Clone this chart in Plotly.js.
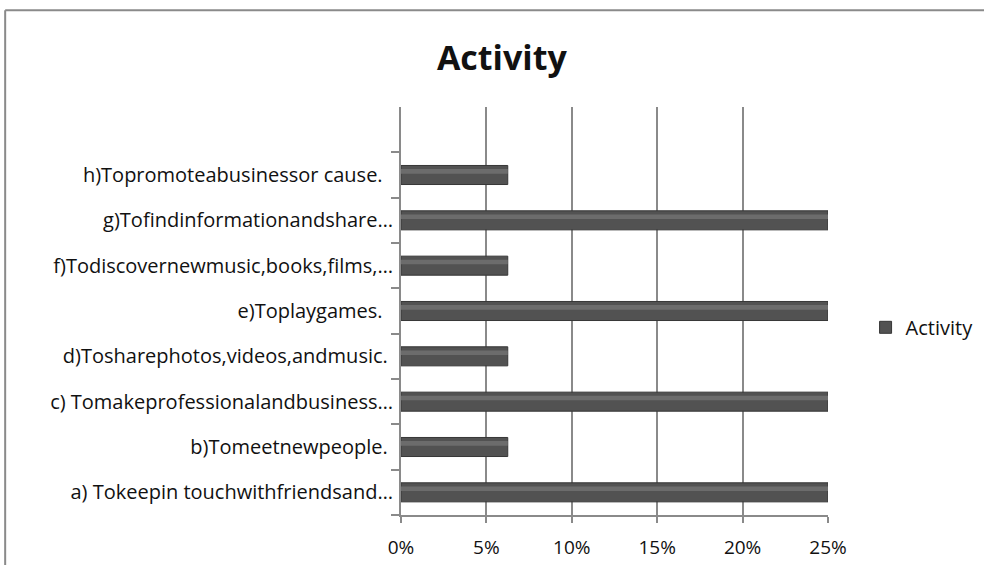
<!DOCTYPE html>
<html>
<head>
<meta charset="utf-8">
<script src="https://cdn.plot.ly/plotly-3.0.1.min.js"></script>
<style>
html,body{margin:0;padding:0;background:#fff;}
#chart{width:984px;height:565px;}
</style>
</head>
<body>
<div id="chart"></div>
<script>
const categories = [
  "a) Tokeepin touchwithfriendsand…",
  "b)Tomeetnewpeople.\u00a0",
  "c) Tomakeprofessionalandbusiness…",
  "d)Tosharephotos,videos,andmusic.\u00a0",
  "e)Toplaygames.\u00a0\u00a0",
  "f)Todiscovernewmusic,books,films,…",
  "g)Tofindinformationandshare…",
  "h)Topromoteabusinessor cause.\u00a0\u00a0"
];
const activity = [0.25, 0.0625, 0.25, 0.0625, 0.25, 0.0625, 0.25, 0.0625];
const xTicks = [0, 0.05, 0.10, 0.15, 0.20, 0.25];

const fontFam = "'Open Sans', sans-serif";
const trace = {
  type: 'bar',
  orientation: 'h',
  name: 'Activity',
  x: activity,
  y: categories,
  width: 0.42,
  offset: -0.21,
  marker: {color: '#525252', line: {color: '#363636', width: 1}},
  showlegend: true
};
const shine = {
  type: 'bar',
  orientation: 'h',
  name: 'Activity',
  x: activity,
  y: categories,
  width: 0.1,
  offset: 0.03,
  marker: {color: '#6c6c6c', line: {width: 0}},
  showlegend: false,
  hoverinfo: 'skip'
};

const layout = {
  width: 984, height: 565,
  barmode: 'overlay',
  margin: {l: 401, r: 156, t: 107, b: 50, autoexpand: false},
  paper_bgcolor: '#fff', plot_bgcolor: '#fff',
  title: {text: '<b>Activity</b>', x: 0.51, xref: 'container', y: 0.897, yref: 'container', yanchor: 'middle', xanchor: 'center',
          font: {family: fontFam, size: 34, color: '#111'}},
  xaxis: {range: [0, 0.25], tickvals: xTicks, tickformat: '.0%', showgrid: true, gridcolor: '#8a8a8a', gridwidth: 2,
          ticks: 'outside', ticklen: 6, tickwidth: 2, tickcolor: '#8a8a8a', showline: true, linecolor: '#8a8a8a', linewidth: 2,
          zeroline: false, tickfont: {family: fontFam, size: 19, color: '#111'}, ticklabelstandoff: 8, fixedrange: true, automargin: false},
  yaxis: {type: 'category', range: [-0.5, 8.5], tickson: 'boundaries', ticks: 'outside', ticklen: 8, tickwidth: 2, tickcolor: '#8a8a8a',
          showline: true, linecolor: '#8a8a8a', linewidth: 2, showgrid: false, zeroline: false, automargin: false,
          tickfont: {family: fontFam, size: 20, color: '#111'}, ticklabelstandoff: 2},
  legend: {x: 1.088, xanchor: 'left', y: 0.46, yanchor: 'middle', font: {family: fontFam, size: 20, color: '#111'}, itemwidth: 30},
  shapes: [
    {type: 'line', xref: 'paper', yref: 'paper', x0: -0.927, x1: -0.927, y0: -0.2, y1: 1.237, line: {color: '#8a8a8a', width: 2}},
    {type: 'line', xref: 'paper', yref: 'paper', x0: -0.927, x1: 1.4, y0: 1.237, y1: 1.237, line: {color: '#8a8a8a', width: 2}}
  ]
};

Plotly.newPlot('chart', [trace, shine], layout, {displayModeBar: false, staticPlot: true});
</script>
</body>
</html>
